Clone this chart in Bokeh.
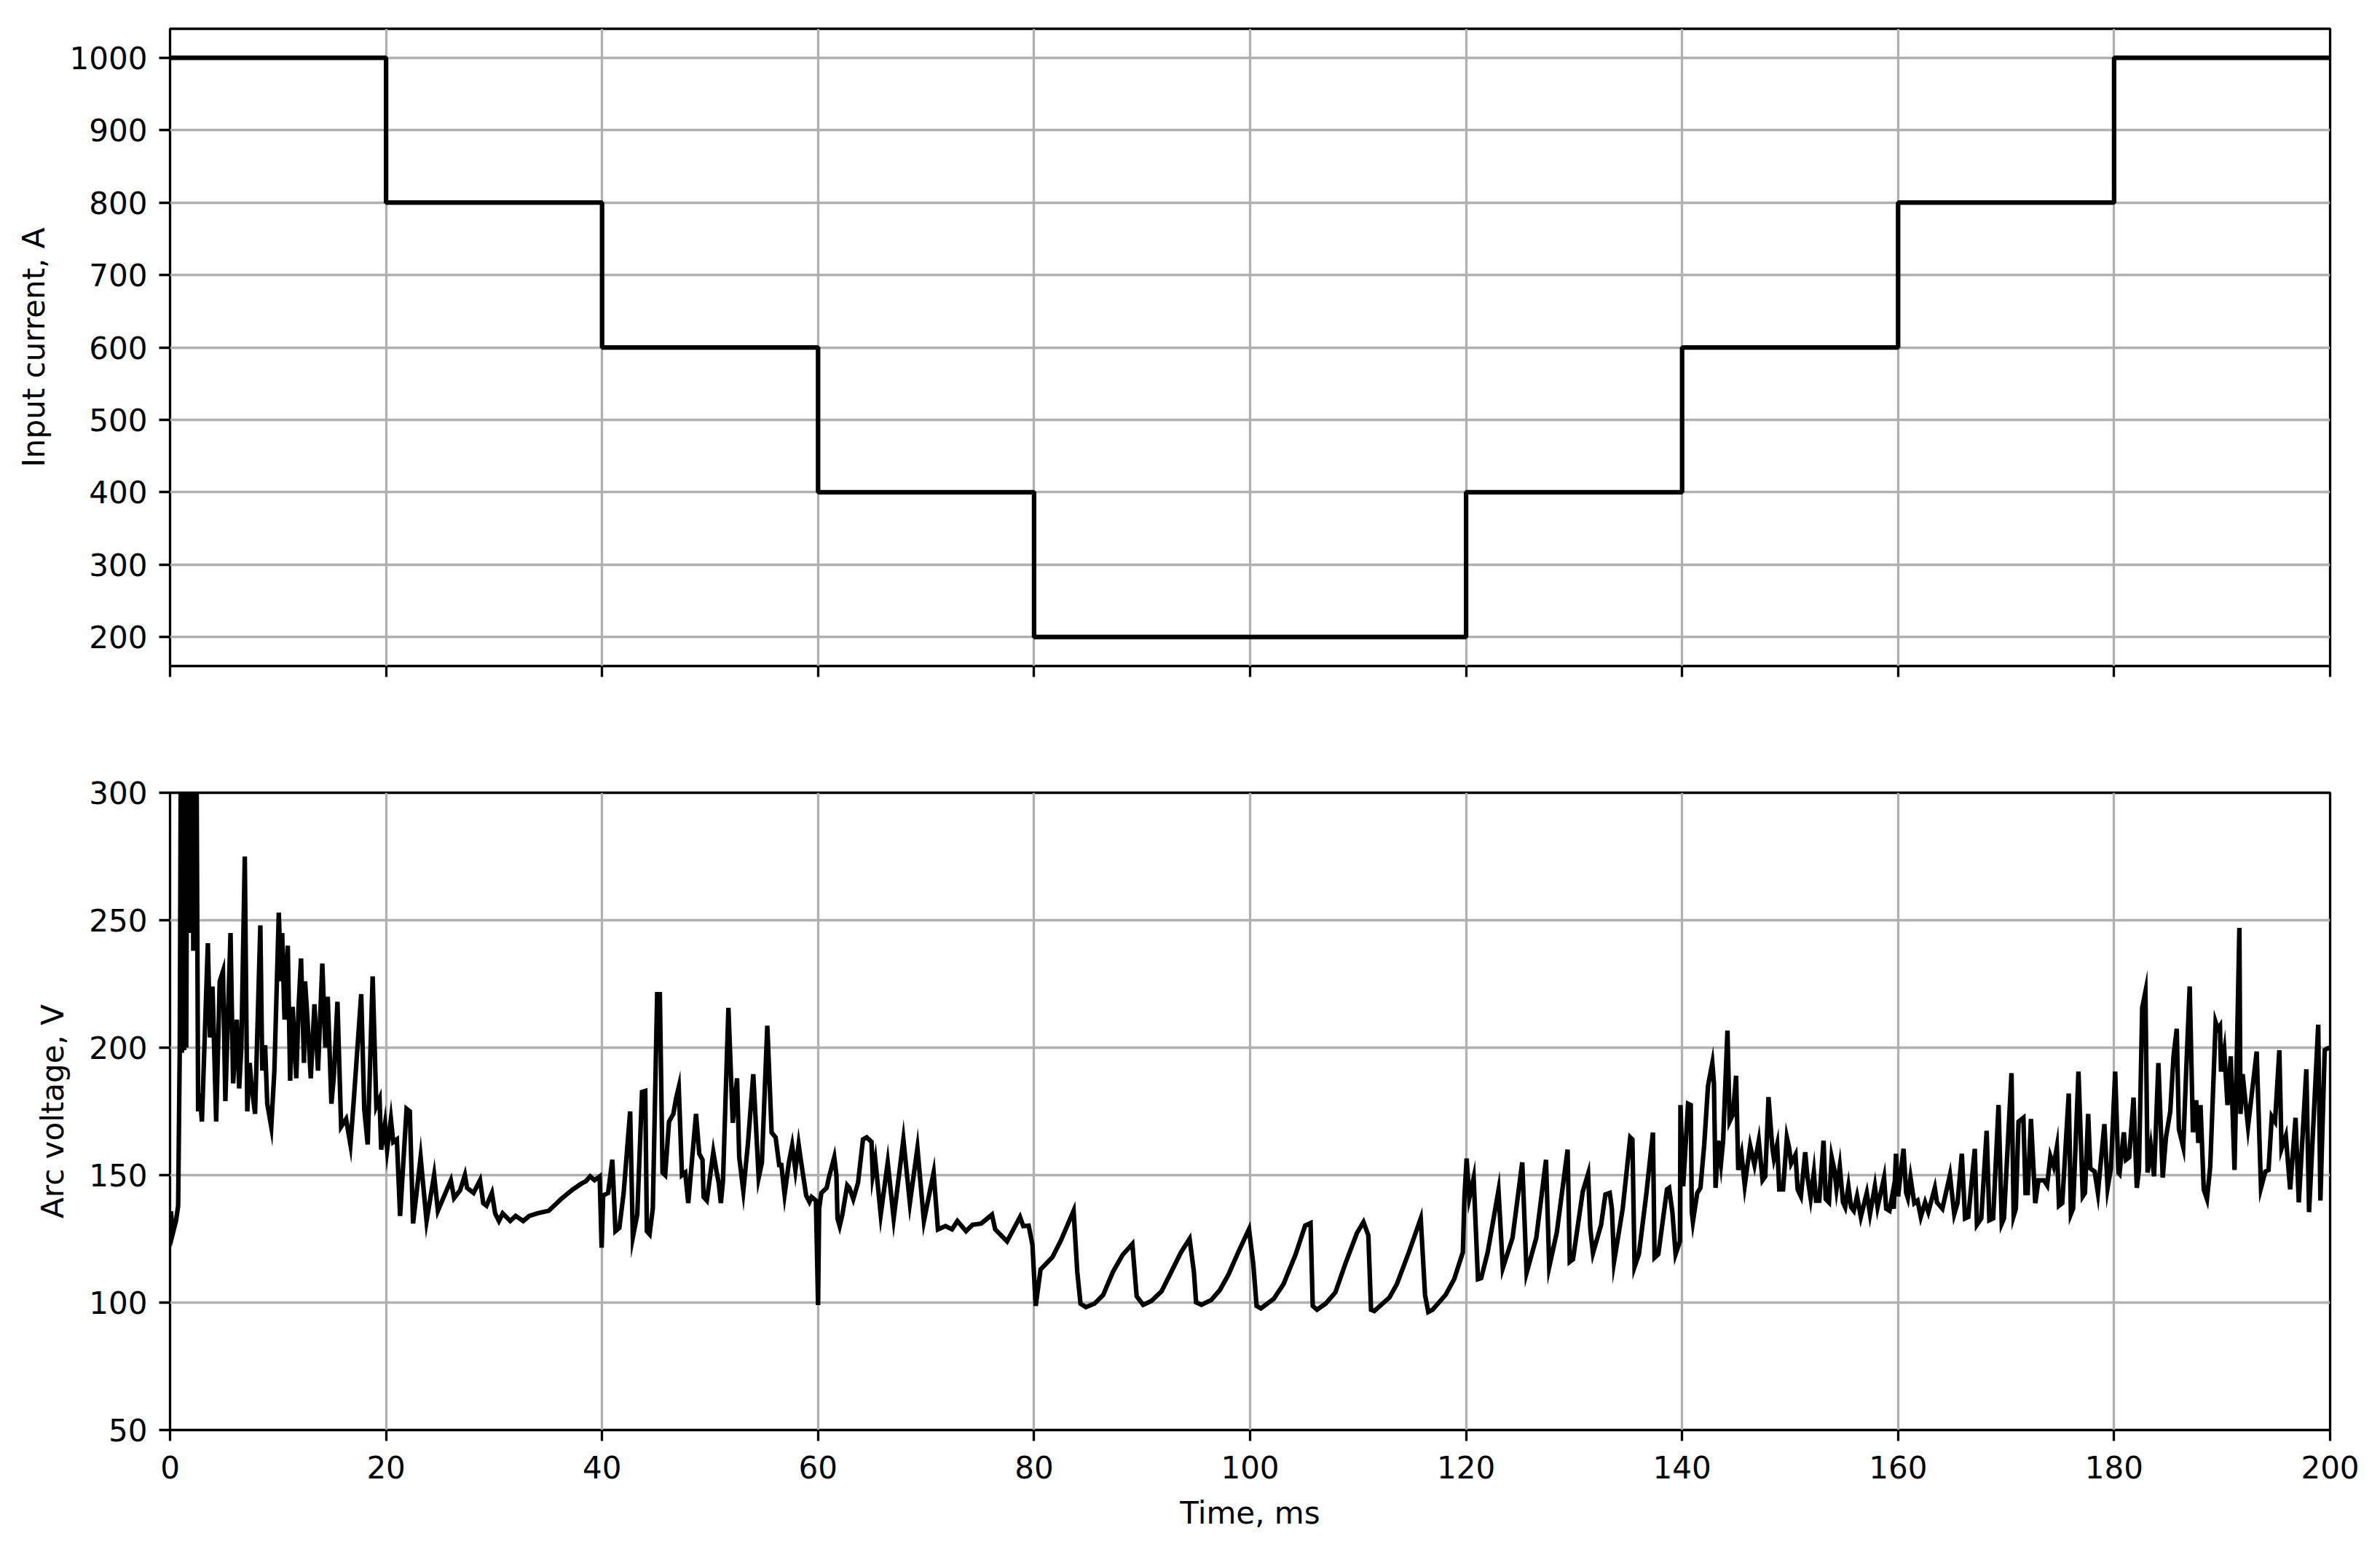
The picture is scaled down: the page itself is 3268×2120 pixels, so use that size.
from bokeh.plotting import figure
from bokeh.layouts import column
from bokeh.models import Range1d, FixedTicker
from bokeh.embed import file_html
from bokeh.resources import INLINE

# ---------------- data ----------------
step_times_ms = [0, 20, 40, 60, 80, 100, 120, 140, 160, 180, 200]
input_current_A = [1000, 800, 600, 400, 200, 200, 400, 600, 800, 1000, 1000]

time_ms = [
    0.0, 0.1, 0.25, 0.55, 0.75, 0.9, 1.0, 1.1, 1.2, 1.3, 1.4, 1.5, 1.6, 1.75, 1.85, 1.95, 2.05, 2.15, 2.25, 2.35,
    2.45, 2.6, 2.75, 2.95, 3.5, 3.7, 3.93, 4.27, 4.6, 4.9, 5.12, 5.6, 5.84, 6.18, 6.4, 6.6, 6.92, 7.15, 7.37, 7.53,
    7.87, 8.36, 8.54, 8.8, 9.0, 9.37, 9.66, 10.07, 10.27, 10.38, 10.6, 10.9, 11.12, 11.35, 11.69, 11.9, 12.13, 12.4,
    12.5, 12.7, 13.03, 13.37, 13.7, 14.1, 14.38, 14.6, 14.94, 15.17, 15.5, 15.84, 16.3, 16.7, 16.97, 17.7, 17.98,
    18.3, 18.76, 19.1, 19.4, 19.55, 19.9, 20.1, 20.45, 20.67, 21.0, 21.3, 21.9, 22.2, 22.5, 23.2, 23.75, 24.45, 24.8,
    25.2, 26.0, 26.3, 26.85, 27.3, 27.5, 28.1, 28.7, 29.0, 29.3, 29.8, 30.1, 30.45, 30.8, 31.5, 32.0, 32.7, 33.26,
    34.0, 35.06, 36.2, 37.3, 38.1, 38.5, 38.9, 39.3, 39.78, 39.96, 40.1, 40.56, 40.95, 41.24, 41.6, 42.0, 42.6,
    42.85, 43.26, 43.7, 44.0, 44.15, 44.4, 44.7, 45.1, 45.35, 45.6, 45.84, 46.2, 46.4, 46.6, 46.85, 47.1, 47.4, 47.7,
    47.98, 48.7, 49.0, 49.3, 49.4, 49.7, 50.3, 50.6, 50.8, 51.0, 51.2, 51.7, 52.1, 52.5, 52.7, 53.08, 53.5, 54.0,
    54.5, 54.8, 55.3, 55.7, 56.07, 56.4, 56.6, 56.9, 57.3, 57.6, 57.9, 58.2, 58.4, 58.9, 59.2, 59.4, 59.8, 60.0,
    60.1, 60.3, 60.8, 61.0, 61.5, 61.7, 61.8, 62.0, 62.25, 62.7, 62.9, 63.26, 63.7, 64.16, 64.5, 64.95, 65.06, 65.3,
    65.8, 66.45, 67.0, 67.9, 68.5, 69.2, 69.8, 70.7, 71.1, 71.8, 72.4, 72.9, 73.7, 74.3, 75.1, 76.1, 76.4, 77.5,
    78.7, 79.0, 79.5, 79.85, 80.15, 80.6, 81.7, 82.5, 83.66, 84.0, 84.3, 84.8, 85.6, 86.4, 87.3, 88.2, 89.1, 89.5,
    90.1, 90.85, 91.8, 92.7, 93.6, 94.4, 94.8, 95.0, 95.5, 96.4, 97.2, 98.0, 98.9, 99.9, 100.3, 100.6, 101.0, 102.2,
    103.1, 104.2, 105.1, 105.6, 105.8, 106.2, 107.0, 107.9, 108.8, 109.9, 110.5, 110.95, 111.2, 111.5, 112.9, 113.6,
    114.7, 115.8, 116.2, 116.5, 116.9, 118.1, 118.9, 119.7, 119.85, 120.05, 120.3, 120.7, 121.1, 121.4, 122.0,
    123.0, 123.4, 124.3, 125.2, 125.6, 126.5, 127.4, 127.7, 128.4, 129.4, 129.6, 129.9, 130.8, 131.3, 131.5, 131.75,
    132.5, 132.9, 133.3, 133.5, 133.7, 134.5, 135.2, 135.4, 135.6, 136.0, 136.7, 137.3, 137.45, 137.8, 138.2, 138.6,
    138.8, 139.1, 139.4, 139.8, 139.85, 140.1, 140.3, 140.55, 140.8, 140.9, 141.0, 141.4, 141.7, 142.05, 142.4,
    142.8, 142.95, 143.1, 143.35, 143.6, 143.8, 144.2, 144.4, 144.7, 145.0, 145.2, 145.3, 145.5, 145.8, 146.3,
    146.7, 147.1, 147.45, 147.7, 148.0, 148.35, 148.5, 148.8, 149.0, 149.35, 149.7, 149.9, 150.1, 150.5, 150.7,
    151.0, 151.4, 151.6, 151.9, 152.2, 152.4, 152.7, 153.1, 153.3, 153.6, 153.85, 154.1, 154.3, 154.6, 154.9,
    155.1, 155.4, 155.65, 155.9, 156.2, 156.55, 157.1, 157.4, 157.85, 158.1, 158.7, 158.9, 159.2, 159.5, 159.6,
    159.8, 160.0, 160.5, 160.75, 160.9, 161.15, 161.5, 161.8, 162.1, 162.5, 162.8, 163.4, 163.6, 164.1, 164.8,
    165.2, 165.5, 165.9, 166.2, 166.5, 167.1, 167.3, 167.7, 168.2, 168.45, 168.8, 169.3, 169.6, 169.8, 170.5, 170.7,
    170.9, 171.15, 171.6, 171.8, 172.0, 172.3, 172.7, 173.0, 173.5, 173.8, 174.1, 174.4, 174.7, 174.9, 175.2, 175.8,
    176.0, 176.2, 176.7, 177.1, 177.3, 177.6, 177.8, 178.2, 178.5, 179.1, 179.4, 179.7, 180.1, 180.4, 180.5, 180.9,
    181.1, 181.4, 181.8, 182.1, 182.3, 182.6, 182.9, 183.1, 183.4, 183.7, 184.1, 184.5, 184.8, 185.2, 185.5, 185.8,
    186.0, 186.4, 186.7, 187.0, 187.3, 187.6, 187.8, 188.0, 188.3, 188.6, 188.9, 189.4, 189.6, 189.8, 189.9, 190.2,
    190.5, 190.8, 191.15, 191.6, 191.7, 191.9, 192.4, 192.7, 193.2, 193.6, 194.0, 194.3, 194.6, 194.9, 195.3, 195.5,
    195.9, 196.3, 196.8, 197.1, 197.8, 198.05, 198.9, 199.1, 199.5, 199.7, 200.0,
]

arc_voltage_V = [
    135, 135, 127, 132, 138, 200, 320, 198, 330, 199, 335, 200, 330, 245, 340, 246, 330, 238, 320, 238,
    315, 175, 182, 171, 241, 204, 224, 171, 226, 230, 179, 245, 186, 211, 184, 200, 275, 175, 194, 186,
    174, 248, 191, 201, 178, 169, 191, 253, 226, 245, 211, 240, 187, 216, 188, 216, 235, 194,
    226, 213, 188, 217, 191, 233, 200, 220, 178, 189, 218, 169, 172, 162, 177, 221, 176,
    162, 228, 177, 180, 160, 170, 160, 172, 163, 164, 134, 176, 175, 131, 157, 132, 150, 136,
    140, 148, 141, 144, 150, 145, 143, 148, 139, 138, 143, 135, 132, 135, 132, 134, 132, 134,
    135, 136, 140.6, 144.4, 146.7, 147.6, 149.5, 148, 149.5, 121.5, 142, 143, 156, 128, 129.3, 143, 175,
    125.6, 134.5, 182.6, 183, 128, 126.8, 137, 221, 221, 151, 150, 171, 172.5, 174, 180, 184.5, 150, 151,
    139, 174, 158.4, 156, 141.4, 140, 159, 151.4, 147, 139, 148, 215.6, 170.5, 188, 157, 143.8, 162, 189.6,
    149, 155, 208.6, 166.7, 164.8, 154, 154, 142.4, 155, 161.6, 152, 162, 156, 142, 139.5, 141.4, 140, 99,
    136.8, 143, 145, 149, 157, 150, 133, 130, 134.5, 146, 145, 140.6, 147, 164, 164.8, 163, 150, 156,
    134.5, 155, 133, 164, 139, 160.6, 132, 151, 128.7, 130, 128.7, 132, 128, 130.5, 131, 134.5, 128.7, 124,
    133.6, 130, 130.2, 122.6, 98.7, 113, 117.8, 124.5, 136, 112, 99.6, 98.2, 99.6, 103, 112, 118.7, 123, 102.5,
    99.1, 100.6, 104.4, 112, 119.7, 125, 112, 100.1, 99.1, 101, 104.9, 111, 119.7, 128.8, 115, 98.7, 97.7, 101.5,
    107.3, 118.7, 130.2, 131.2, 98.7, 97.2, 99.6, 104, 115, 127.3, 131.6, 126.4, 97.2, 96.7, 102, 107.3,
    119.7, 133, 103, 96.3, 97.2, 103, 109.2, 119.7, 141.7, 156.5, 141, 148.9, 109.2, 109.6, 119.7,
    144, 113.5, 125.4, 155, 111.6, 125.4, 156, 114, 127.5, 160, 116, 117, 143.5, 150.5, 129, 119.4,
    130.5, 142.4, 143, 136.8, 116, 136.8, 164.8, 164, 114, 119, 143, 166.7, 117.6, 119, 131.7, 144.4,
    145, 135.5, 119, 124, 177.5, 145.6, 159.7, 178, 177.5, 135.5, 131.7, 143, 145, 162, 185,
    194, 186, 145, 163.5, 154.6, 163.5, 206.7, 171, 173.7, 189, 152, 154.6, 158.4, 146, 161.6,
    154, 163.5, 148, 149.5, 180.6, 161, 156.5, 162, 144.4, 144.4, 164.8, 161, 154.6, 158, 144.4,
    141.7, 159, 149.5, 141, 151, 140, 140, 163.5, 140.6, 139.3, 157, 152, 144.4, 153.4, 139.3,
    137.4, 145.6, 137.4, 136, 141.7, 133.6, 143, 134.7, 145.6, 137.4, 149, 136.8, 136, 143, 136.8,
    158.4, 141.7, 160.3, 143, 141, 149, 139, 140, 133.6, 139.3, 135.5, 145, 139.3, 136.8, 150,
    134.7, 139, 158.4, 133, 133.6, 160.3, 130.5, 133, 167.4, 132.3, 133, 177.5, 131, 133, 190, 134,
    136.8, 171, 172.5, 143, 143, 172, 139, 148, 148, 146, 157.4, 153.5, 161, 138, 139, 182,
    134.7, 136.8, 190.6, 141.7, 143, 174, 152.6, 151.4, 143, 170, 145, 152.6, 190.6, 151, 150.5, 166.8,
    156, 157, 180.4, 145, 152, 215.6, 222, 151, 161, 149.5, 194, 149, 164.8, 175, 196.6, 207.4,
    168, 161, 193.5, 224, 166.8, 179.4, 162.6, 177.5, 144.4, 140.6, 153.4, 210, 207.4, 208.6, 190.6, 198.9,
    177.5, 196.6, 152, 247, 174, 189.6, 169, 180, 198.5, 145, 151.4, 152, 173, 171, 199, 160.3,
    165.4, 144.4, 172.5, 139.3, 191.5, 135.5, 209, 140, 199, 199.6, 200,
]

x_ticks = [0, 20, 40, 60, 80, 100, 120, 140, 160, 180, 200]
current_ticks = [200, 300, 400, 500, 600, 700, 800, 900, 1000]
voltage_ticks = [50, 100, 150, 200, 250, 300]

FONT = "DejaVu Sans"
FS = "42px"
GRID = "#b0b0b0"
LW = 3.3


def style(p, yticks):
    p.outline_line_color = "black"
    p.outline_line_width = LW
    p.background_fill_color = "white"
    p.border_fill_color = "white"
    for ax in (p.xaxis[0], p.yaxis[0]):
        ax.axis_line_color = None
        ax.major_tick_line_color = "black"
        ax.major_tick_line_width = LW
        ax.major_tick_out = 15
        ax.major_tick_in = 0
        ax.minor_tick_line_color = None
        ax.major_label_text_font = FONT
        ax.major_label_text_font_size = FS
        ax.major_label_text_color = "black"
        ax.axis_label_text_font = FONT
        ax.axis_label_text_font_size = FS
        ax.axis_label_text_font_style = "normal"
        ax.axis_label_text_color = "black"
    p.xaxis.ticker = FixedTicker(ticks=x_ticks)
    p.yaxis.ticker = FixedTicker(ticks=yticks)
    p.xaxis.major_label_standoff = 20
    p.yaxis.major_label_standoff = 16
    p.xgrid.grid_line_color = GRID
    p.ygrid.grid_line_color = GRID
    p.xgrid.grid_line_width = LW
    p.ygrid.grid_line_width = LW


W = 3252
p1 = figure(width=W, height=992, x_range=Range1d(0, 200), y_range=Range1d(160, 1040),
            output_backend="svg", toolbar_location=None,
            min_border_left=233, min_border_right=53, min_border_top=39, min_border_bottom=78)
style(p1, current_ticks)
p1.yaxis.axis_label = "Input current, A"
p1.yaxis.axis_label_standoff = 22
p1.xaxis.major_label_overrides = {t: "" for t in x_ticks}
p1.step(step_times_ms, input_current_A, mode="after", line_color="black", line_width=6.25)

p2 = figure(width=W, height=1120, x_range=p1.x_range, y_range=Range1d(50, 300),
            output_backend="svg", toolbar_location=None,
            min_border_left=233, min_border_right=53, min_border_top=96, min_border_bottom=149)
style(p2, voltage_ticks)
p2.yaxis.axis_label = "Arc voltage, V"
p2.yaxis.axis_label_standoff = 22
p2.xaxis.axis_label = "Time, ms"
p2.xaxis.axis_label_standoff = 20
p2.line(time_ms, arc_voltage_V, line_color="black", line_width=6.25, line_join="miter")

layout = column(p1, p2, spacing=0)
open("out.html", "w").write(file_html(layout, INLINE))
